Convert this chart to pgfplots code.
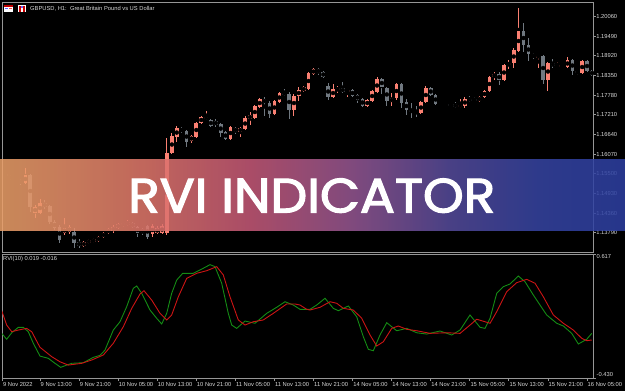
\documentclass[border=0pt]{standalone}
\usepackage{pgfplots}
\pgfplotsset{compat=1.18}
\usepackage{pgfplotstable}
\usepackage{graphicx}
\usepackage{fontspec}
\setmainfont{Liberation Sans}
\newfontfamily\bannerfont{Poppins}[FakeBold=2.5]

\definecolor{upc}{RGB}{250,128,114}
\definecolor{dnc}{RGB}{112,120,128}
\definecolor{linegray}{RGB}{150,150,150}
\definecolor{labc}{RGB}{215,215,215}
\definecolor{rvig}{RGB}{20,140,20}
\definecolor{rvir}{RGB}{205,20,20}
\definecolor{b0}{RGB}{235,160,104}
\definecolor{b1}{RGB}{231,141,106}
\definecolor{b2}{RGB}{224,118,108}
\definecolor{b3}{RGB}{198,89,120}
\definecolor{b4}{RGB}{151,87,146}
\definecolor{b5}{RGB}{85,75,155}
\definecolor{b6}{RGB}{54,68,162}
\definecolor{b7}{RGB}{45,64,162}
\pgfdeclarehorizontalshading{banner}{100bp}{color(0bp)=(b0); color(25bp)=(b0); color(31bp)=(b1); color(37bp)=(b2); color(45bp)=(b3); color(53bp)=(b4); color(61bp)=(b5); color(68bp)=(b6); color(75bp)=(b7); color(100bp)=(b7)}

\pgfplotstableread{
x o h l c
2 1.15349 1.15465 1.15320 1.15436
5 1.15233 1.15668 1.15204 1.15465
7 1.14363 1.14595 1.14218 1.14537
8 1.14363 1.14769 1.14334 1.14653
13 1.13783 1.14218 1.13725 1.13928
14 1.13812 1.14015 1.13754 1.13957
17 1.13406 1.13551 1.13377 1.13522
18 1.13493 1.13609 1.13464 1.13580
19 1.13522 1.13638 1.13493 1.13609
20 1.13551 1.13696 1.13522 1.13667
21 1.13667 1.13812 1.13638 1.13783
22 1.13783 1.13928 1.13754 1.13899
23 1.13841 1.14015 1.13783 1.13957
24 1.13928 1.14073 1.13899 1.14044
25 1.14015 1.14102 1.13957 1.14073
26 1.14015 1.14160 1.13986 1.14102
31 1.13754 1.14044 1.13667 1.13986
32 1.13783 1.13986 1.13754 1.13928
33 1.13783 1.14044 1.13754 1.13986
34 1.13783 1.16538 1.13725 1.16103
35 1.16103 1.16683 1.16074 1.16596
36 1.16567 1.16886 1.16422 1.16828
39 1.16451 1.16625 1.16393 1.16596
40 1.16567 1.17002 1.16538 1.16973
41 1.16973 1.17176 1.16944 1.17147
42 1.17089 1.17321 1.17060 1.17147
47 1.16509 1.16886 1.16480 1.16857
49 1.16712 1.16857 1.16567 1.16828
50 1.16799 1.17176 1.16770 1.17118
51 1.17089 1.17292 1.16915 1.17205
52 1.17118 1.17495 1.17089 1.17466
53 1.17437 1.17698 1.17408 1.17669
56 1.17234 1.17640 1.17205 1.17611
57 1.17582 1.17872 1.17553 1.17843
60 1.17350 1.17814 1.17176 1.17756
61 1.17756 1.18017 1.17611 1.17930
62 1.17901 1.18046 1.17872 1.18017
63 1.17959 1.18452 1.17930 1.18423
64 1.18394 1.18568 1.18365 1.18539
68 1.17727 1.18104 1.17698 1.17959
69 1.17930 1.18046 1.17843 1.17988
71 1.17872 1.17959 1.17727 1.17930
75 1.17466 1.17669 1.17437 1.17640
76 1.17611 1.17930 1.17582 1.17901
77 1.17872 1.18307 1.17843 1.18249
80 1.17582 1.17843 1.17466 1.17698
81 1.17698 1.18133 1.17640 1.18104
86 1.17263 1.17611 1.17234 1.17582
87 1.17582 1.18046 1.17553 1.17988
90 1.17524 1.17582 1.17495 1.17553
94 1.17437 1.17669 1.17408 1.17495
95 1.17466 1.17727 1.17408 1.17669
98 1.17611 1.17756 1.17582 1.17727
99 1.17727 1.17930 1.17698 1.17901
100 1.17901 1.18336 1.17872 1.18307
101 1.18307 1.18452 1.18220 1.18394
103 1.18220 1.18684 1.18191 1.18655
104 1.18655 1.18800 1.18539 1.18713
105 1.18713 1.19148 1.18568 1.19090
106 1.19061 1.20308 1.19032 1.19641
110 1.18887 1.18945 1.18568 1.18916
112 1.18220 1.18742 1.17901 1.18713
114 1.18597 1.18742 1.18597 1.18655
116 1.18597 1.18887 1.18568 1.18800
119 1.18423 1.18800 1.18394 1.18771
}\upTable

\pgfplotstableread{
x o h l c
1 1.15494 1.15523 1.15407 1.15436
3 1.15349 1.15378 1.15262 1.15291
4 1.15320 1.15349 1.15175 1.15233
6 1.15465 1.15494 1.14392 1.14537
9 1.14653 1.14740 1.14479 1.14537
10 1.14566 1.14595 1.14044 1.14102
11 1.14102 1.14160 1.13870 1.13928
12 1.13957 1.14015 1.13493 1.13580
15 1.13812 1.13928 1.13348 1.13493
16 1.13522 1.13609 1.13348 1.13406
27 1.14073 1.14102 1.13928 1.13957
28 1.13957 1.13986 1.13667 1.13783
29 1.13899 1.13928 1.13725 1.13783
30 1.13986 1.14015 1.13609 1.13667
37 1.16799 1.16857 1.16683 1.16741
38 1.16741 1.16770 1.16277 1.16422
43 1.17060 1.17089 1.16857 1.16886
44 1.17031 1.17089 1.16857 1.16915
45 1.16944 1.16973 1.16567 1.16683
46 1.16712 1.16741 1.16480 1.16509
48 1.16828 1.16857 1.16654 1.16712
54 1.17669 1.17727 1.17176 1.17553
55 1.17553 1.17611 1.17118 1.17234
58 1.17843 1.17959 1.17756 1.17814
59 1.17814 1.17872 1.17089 1.17350
65 1.18539 1.18568 1.18365 1.18423
66 1.18452 1.18481 1.18278 1.18307
67 1.18046 1.18133 1.17640 1.17727
70 1.17988 1.18162 1.17843 1.17872
72 1.17930 1.17959 1.17727 1.17756
73 1.17785 1.17814 1.17553 1.17640
74 1.17669 1.17698 1.17437 1.17466
78 1.18249 1.18278 1.17814 1.18017
79 1.17988 1.18017 1.17466 1.17611
82 1.18104 1.18133 1.17408 1.17553
83 1.17582 1.17669 1.17205 1.17350
84 1.17350 1.17553 1.17118 1.17292
85 1.17292 1.17466 1.17147 1.17263
88 1.17988 1.18017 1.17756 1.17785
89 1.17785 1.17814 1.17495 1.17524
91 1.17553 1.17582 1.17466 1.17495
92 1.17524 1.17553 1.17437 1.17466
93 1.17524 1.17582 1.17408 1.17437
96 1.17669 1.17756 1.17582 1.17640
97 1.17669 1.17727 1.17582 1.17611
102 1.18394 1.18452 1.18075 1.18220
107 1.19641 1.19873 1.19032 1.19235
108 1.19235 1.19438 1.18771 1.18974
109 1.18974 1.19003 1.18829 1.18887
111 1.18916 1.18945 1.18104 1.18220
113 1.18713 1.18829 1.18568 1.18626
115 1.18626 1.18655 1.18539 1.18568
117 1.18800 1.18829 1.18365 1.18481
118 1.18481 1.18510 1.18365 1.18423
120 1.18771 1.18800 1.18452 1.18481
121 1.18481 1.18510 1.18336 1.18365
}\downTable

\pgfplotsset{
  mtaxis/.style={
    scale only axis, width=591bp, xmin=0.22, xmax=121.22,
    axis line style={linegray, line width=0.8bp},
    tick style={linegray, line width=0.8bp},
    tick align=outside, major tick length=2.5bp,
    clip mode=individual,
    ticklabel style={font=\fontsize{5.8}{6.5}\selectfont, text=labc},
    /pgf/number format/assume math mode=true,
  },
  wick/.style={only marks, mark=none, forget plot,
    error bars/.cd, y dir=both, y explicit, error mark=none,
    error bar style={line width=1bp, color=#1}},
  body/.style={only marks, mark=none, forget plot,
    error bars/.cd, y dir=both, y explicit, error mark=none,
    error bar style={line width=3.6bp, color=#1}},
}

\begin{document}
\begin{tikzpicture}
\fill[black] (0bp,0bp) rectangle (625bp,391bp);

\begin{axis}[mtaxis, at={(2bp,139bp)}, anchor=south west, height=250bp,
  ymin=1.13232, ymax=1.20482,
  xtick=\empty,
  ytick={1.13790,1.14360,1.14930,1.15500,1.16070,1.16640,1.17210,1.17780,1.18350,1.18920,1.19490,1.20060},
  ytick pos=right, yticklabel pos=right, scaled y ticks=false,
  yticklabel style={anchor=west, inner sep=0.6bp,
    /pgf/number format/fixed, /pgf/number format/fixed zerofill, /pgf/number format/precision=5},
]
\addplot[wick=upc] table[x=x, y expr={(\thisrow{h}+\thisrow{l})/2}, y error expr={(\thisrow{h}-\thisrow{l})/2}] {\upTable};
\addplot[wick=dnc] table[x=x, y expr={(\thisrow{h}+\thisrow{l})/2}, y error expr={(\thisrow{h}-\thisrow{l})/2}] {\downTable};
\addplot[body=upc] table[x=x, y expr={(\thisrow{o}+\thisrow{c})/2}, y error expr={max(abs(\thisrow{c}-\thisrow{o})/2,0.00015)}] {\upTable};
\addplot[body=dnc] table[x=x, y expr={(\thisrow{o}+\thisrow{c})/2}, y error expr={max(abs(\thisrow{c}-\thisrow{o})/2,0.00015)}] {\downTable};
% title icons and text
\fill[white] ([xshift=2bp,yshift=-3bp]rel axis cs:0,1) rectangle ([xshift=11bp,yshift=-10bp]rel axis cs:0,1);
\fill[red!75!black] ([xshift=2bp,yshift=-3bp]rel axis cs:0,1) rectangle ([xshift=11bp,yshift=-5bp]rel axis cs:0,1);
\fill[blue!60] ([xshift=3bp,yshift=-6bp]rel axis cs:0,1) rectangle ([xshift=6bp,yshift=-7bp]rel axis cs:0,1);
\fill[red!70] ([xshift=7bp,yshift=-6bp]rel axis cs:0,1) rectangle ([xshift=10bp,yshift=-7bp]rel axis cs:0,1);
\fill[white] ([xshift=16bp,yshift=-3bp]rel axis cs:0,1) rectangle ([xshift=24bp,yshift=-10bp]rel axis cs:0,1);
\fill[red!80!black] ([xshift=17bp,yshift=-4bp]rel axis cs:0,1) rectangle ([xshift=19bp,yshift=-10bp]rel axis cs:0,1);
\fill[red!80!black] ([xshift=21bp,yshift=-4bp]rel axis cs:0,1) rectangle ([xshift=23bp,yshift=-10bp]rel axis cs:0,1);
\fill[blue!60] ([xshift=19bp,yshift=-4bp]rel axis cs:0,1) rectangle ([xshift=21bp,yshift=-6bp]rel axis cs:0,1);
\node[anchor=west, inner sep=0pt, font=\fontsize{5.8}{6.5}\selectfont, text=labc] at ([xshift=28bp,yshift=-6.5bp]rel axis cs:0,1) {GBPUSD, H1:\ \ Great Britain Pound vs US Dollar};
\end{axis}

\begin{axis}[mtaxis, at={(2bp,13bp)}, anchor=south west, height=124bp,
  ymin=-0.430, ymax=0.617,
  ytick={-0.430,0.617}, yticklabels={}, ytick pos=right,
  xtick={0.3,8,16,24,32,40,48,56,64,72,80,88,96,104,112,120},
  xticklabels={9 Nov 2022, 9 Nov 13:00, 9 Nov 21:00, 10 Nov 05:00, 10 Nov 13:00, 10 Nov 21:00, 11 Nov 05:00, 11 Nov 13:00, 11 Nov 21:00, 14 Nov 05:00, 14 Nov 13:00, 14 Nov 21:00, 15 Nov 05:00, 15 Nov 13:00, 15 Nov 21:00, 16 Nov 05:00},
  xtick pos=bottom,
  xticklabel style={anchor=north west, inner sep=0pt, xshift=0.5bp, yshift=-1.5bp},
]
\addplot[rvig, line width=0.9bp, mark=none] coordinates {
(0.16,-0.053)(1.18,-0.103)(2.21,-0.048)(3.56,-0.002)(4.58,-0.002)(5.60,-0.039)(6.63,-0.137)(8.0,-0.245)(9.70,-0.264)(11.07,-0.306)(12.24,-0.340)(13.47,-0.321)(14.49,-0.306)(16.87,-0.301)(18.91,-0.256)(20.28,-0.239)(21.31,-0.194)(23.01,-0.025)(24.38,0.045)(25.75,0.172)(27.10,0.327)(27.80,0.347)(28.82,0.285)(30.52,0.144)(31.89,0.074)(32.92,0.026)(33.94,0.116)(34.96,0.285)(35.99,0.397)(37.22,0.454)(39.39,0.454)(40.76,0.482)(42.81,0.527)(43.83,0.510)(45.20,0.370)(46.55,0.116)(47.25,0.017)(48.27,-0.011)(49.97,0.051)(52.02,0.032)(54.42,0.116)(56.46,0.167)(58.16,0.214)(59.86,0.186)(61.23,0.150)(63.28,0.150)(64.65,0.186)(66.35,0.243)(68.06,0.158)(69.08,0.138)(71.13,0.178)(72.84,0.087)(74.20,-0.082)(75.22,-0.188)(76.24,-0.200)(77.61,-0.067)(78.99,0.037)(81.03,-0.031)(83.08,-0.011)(85.13,-0.048)(87.18,-0.059)(89.90,-0.033)(92.30,-0.067)(94.00,-0.025)(96.04,0.102)(98.09,-0.002)(99.11,-0.011)(100.14,0.074)(101.51,0.285)(102.86,0.341)(104.23,0.364)(105.93,0.431)(107.30,0.383)(109.00,0.271)(111.74,0.102)(113.79,0.032)(115.15,0.009)(116.86,-0.053)(118.22,-0.143)(119.94,-0.103)(120.96,-0.053)
};
\addplot[rvir, line width=0.9bp, mark=none] coordinates {
(0.16,0.138)(1.18,0.017)(2.21,-0.039)(3.56,-0.025)(5.28,-0.011)(6.30,-0.039)(8.0,-0.171)(10.40,-0.250)(12.09,-0.293)(13.79,-0.321)(16.54,-0.306)(18.59,-0.278)(20.96,-0.236)(23.01,-0.137)(25.06,0.003)(26.78,0.158)(28.47,0.279)(29.29,0.307)(30.87,0.228)(32.57,0.116)(33.94,0.060)(34.96,0.102)(36.32,0.256)(38.04,0.412)(40.08,0.454)(42.13,0.476)(44.18,0.510)(45.53,0.440)(46.90,0.256)(48.60,0.060)(49.97,0.017)(51.67,0.045)(53.72,0.060)(55.77,0.116)(58.51,0.195)(60.21,0.195)(61.23,0.186)(62.60,0.150)(63.28,0.144)(65.33,0.167)(67.38,0.214)(68.75,0.201)(70.10,0.158)(72.15,0.144)(73.87,0.074)(75.57,-0.067)(76.94,-0.160)(78.29,-0.124)(80.01,-0.011)(81.36,0.009)(83.08,-0.019)(85.13,-0.031)(87.85,-0.053)(91.27,-0.048)(94.00,-0.053)(96.04,0.017)(97.41,0.066)(99.11,0.045)(100.14,0.032)(101.51,0.130)(103.56,0.299)(105.60,0.375)(107.65,0.403)(109.35,0.370)(111.05,0.256)(113.10,0.102)(115.15,0.032)(117.19,-0.025)(118.91,-0.095)(119.94,-0.115)(120.96,-0.109)
};
\node[anchor=north west, inner sep=0pt, font=\fontsize{5.8}{6.5}\selectfont, text=labc] at ([xshift=1bp,yshift=-2bp]rel axis cs:0,1) {RVI(10) 0.019 -0.016};
\node[anchor=north west, inner sep=0pt, font=\fontsize{5.8}{6.5}\selectfont, text=labc] at ([xshift=3.5bp,yshift=-0.5bp]rel axis cs:1,1) {0.617};
\node[anchor=south west, inner sep=0pt, font=\fontsize{5.8}{6.5}\selectfont, text=labc] at ([xshift=3.5bp,yshift=1bp]rel axis cs:1,0) {-0.430};
\end{axis}

\shade[shading=banner, opacity=0.86] (0bp,160bp) rectangle (625bp,231bp);
\node[anchor=south west, inner sep=0pt, text=white] at (128bp,178bp) {\resizebox{367bp}{34bp}{\bannerfont\fontsize{48}{50}\selectfont RVI INDICATOR}};
\end{tikzpicture}
\end{document}
